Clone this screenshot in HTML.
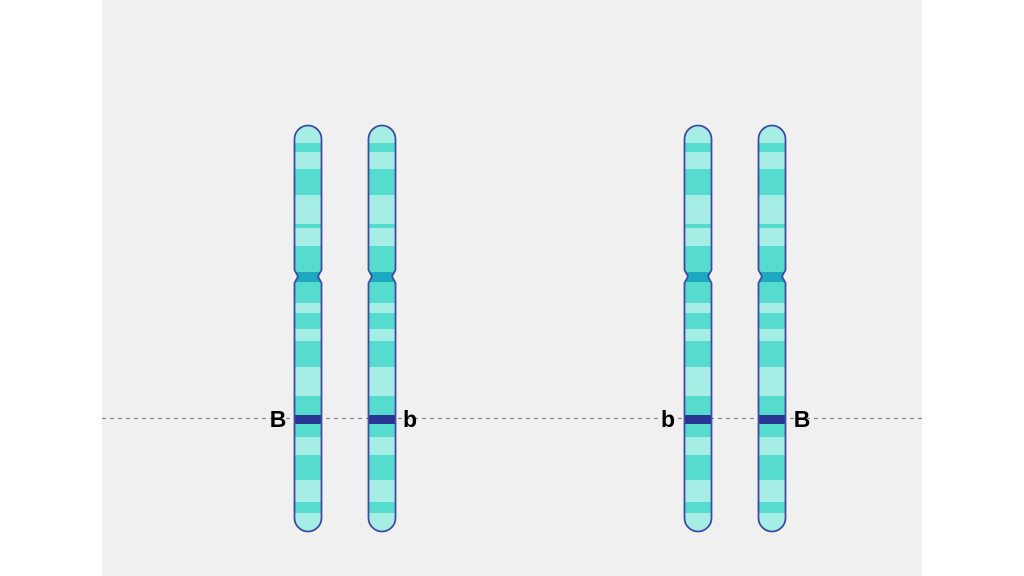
<!DOCTYPE html>
<html><head><style>
html,body{margin:0;padding:0;background:#fff;}
svg{display:block;}
text{font-family:"Liberation Sans",sans-serif;font-weight:bold;font-size:23px;fill:#000;}
</style></head><body>
<svg width="1024" height="576" viewBox="0 0 1024 576">
<rect x="102" y="0" width="820" height="576" fill="#f0f0f0"/>
<line x1="102" y1="418.5" x2="922" y2="418.5" stroke="#8a8a8a" stroke-width="1.3" stroke-dasharray="4,4"/>
<defs>
<path id="shape" d="M0.5,14 A13.5,13.5 0 0 1 27.5,14 L27.5,145 L24,151.5 L27.5,158 L27.5,393 A13.5,13.5 0 0 1 0.5,393 L0.5,158 L4,151.5 L0.5,145 Z"/>
<clipPath id="cp"><use href="#shape"/></clipPath>
<g id="chr">
<g clip-path="url(#cp)">
<rect x="0" y="0" width="28" height="407" fill="#a6ede6"/>
<rect x="0" y="18" width="28" height="9" fill="#55dccf"/>
<rect x="0" y="44" width="28" height="26" fill="#55dccf"/>
<rect x="0" y="99" width="28" height="4" fill="#55dccf"/>
<rect x="0" y="121" width="28" height="26" fill="#55dccf"/>
<rect x="0" y="147" width="28" height="10" fill="#1ea8c2"/>
<rect x="0" y="157" width="28" height="21" fill="#55dccf"/>
<rect x="0" y="188" width="28" height="16" fill="#55dccf"/>
<rect x="0" y="216" width="28" height="26" fill="#55dccf"/>
<rect x="0" y="271" width="28" height="19" fill="#55dccf"/>
<rect x="0" y="290" width="28" height="9" fill="#2a3593"/>
<rect x="0" y="299" width="28" height="13" fill="#55dccf"/>
<rect x="0" y="330" width="28" height="25" fill="#55dccf"/>
<rect x="0" y="377" width="28" height="11" fill="#55dccf"/>
</g>
<use href="#shape" fill="none" stroke="#3f4aa0" stroke-width="1.8"/>
</g>
</defs>
<use href="#chr" x="294" y="125"/>
<use href="#chr" x="368" y="125"/>
<use href="#chr" x="684" y="125"/>
<use href="#chr" x="758" y="125"/>
<text x="278" y="427" text-anchor="middle">B</text>
<text x="410" y="427" text-anchor="middle">b</text>
<text x="668" y="427" text-anchor="middle">b</text>
<text x="802" y="427" text-anchor="middle">B</text>
</svg>
</body></html>
